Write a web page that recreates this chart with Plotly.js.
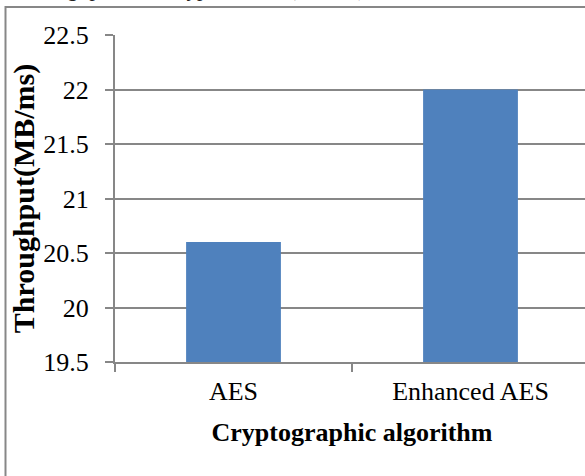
<!DOCTYPE html>
<html>
<head>
<meta charset="utf-8">
<script src="https://cdn.plot.ly/plotly-3.0.1.min.js"></script>
<style>
  html, body { margin: 0; padding: 0; background: #fff; overflow: hidden; }
  #chart { width: 600px; height: 490px; }
</style>
</head>
<body>
<div id="chart"></div>
<script>
// Throughput of the two cryptographic algorithms
const algorithms = ["AES", "Enhanced AES"];
const throughput = [20.6, 22.0];
const yTicks = [19.5, 20, 20.5, 21, 21.5, 22, 22.5];
const yTickText = ["19.5", "20", "20.5", "21", "21.5", "22", "22.5"];

const W = 600, H = 490;
const M = { l: 115, r: 11, t: 35, b: 128 };
const pw = W - M.l - M.r, ph = H - M.t - M.b;
const px = v => (v - M.l) / pw;          // page x -> paper x
const py = v => (H - M.b - v) / ph;      // page y -> paper y

const grey = "#878787";
const serif = "Liberation Serif, Times New Roman, serif";

const trace = {
  type: "bar",
  x: algorithms,
  y: throughput,
  marker: { color: "#4F81BD" },
  hoverinfo: "x+y"
};

const layout = {
  width: W,
  height: H,
  margin: M,
  paper_bgcolor: "#ffffff",
  plot_bgcolor: "#ffffff",
  showlegend: false,
  bargap: 0.6,
  font: { family: serif, color: "#000000", size: 26 },
  xaxis: {
    type: "category",
    showline: true,
    linecolor: grey,
    linewidth: 2,
    ticks: "outside",
    tickson: "boundaries",
    ticklen: 8,
    tickwidth: 2,
    tickcolor: grey,
    showgrid: false,
    tickfont: { family: serif, size: 26 },
    ticklabelstandoff: 5,
    title: { text: "<b>Cryptographic algorithm</b>", font: { family: serif, size: 26 }, standoff: 18 }
  },
  yaxis: {
    range: [19.5, 22.5],
    tickvals: yTicks,
    ticktext: yTickText,
    showline: true,
    linecolor: grey,
    linewidth: 2,
    ticks: "outside",
    ticklen: 8,
    tickwidth: 2,
    tickcolor: grey,
    showgrid: true,
    gridcolor: grey,
    gridwidth: 2,
    zeroline: false,
    tickfont: { family: serif, size: 26 },
    ticklabelstandoff: 11,
    title: { text: "<b>Throughput(MB/ms)</b>", font: { family: serif, size: 30 }, standoff: 0 }
  },
  shapes: [{
    type: "rect",
    xref: "paper", yref: "paper",
    x0: px(5.5), x1: px(W + 5),
    y0: py(H + 5), y1: py(7),
    line: { color: grey, width: 2 },
    fillcolor: "rgba(0,0,0,0)",
    layer: "below"
  }],
  annotations: [{
    xref: "paper", yref: "paper",
    x: px(14), y: py(3),
    xanchor: "left", yanchor: "bottom",
    showarrow: false,
    text: "<i>Throughput as encryption rate (MB/ms)</i>",
    font: { family: serif, size: 22, color: "#222222" }
  }]
};

Plotly.newPlot("chart", [trace], layout, { displayModeBar: false, staticPlot: true });
</script>
</body>
</html>
